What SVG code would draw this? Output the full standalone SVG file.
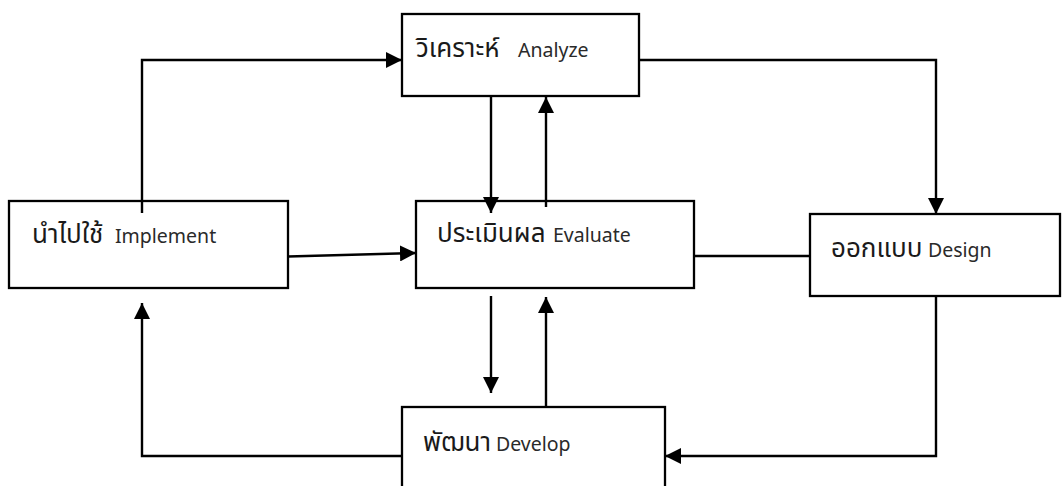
<svg xmlns="http://www.w3.org/2000/svg" width="1063" height="486" viewBox="0 0 1063 486">
  <defs>
    <marker id="arrow" viewBox="0 0 16 16" refX="16" refY="8" markerWidth="16" markerHeight="16" markerUnits="userSpaceOnUse" orient="auto">
      <path d="M0,0 L16,8 L0,16 Z" fill="#000"/>
    </marker>
    <style>
      .box { fill: #fff; stroke: #000; stroke-width: 2.3; }
      .link { fill: none; stroke: #000; stroke-width: 2.4; }
      .th { font-family: "Noto Sans Thai", "Noto Sans Thai UI", "Leelawadee UI", "Loma", "Garuda", "Noto Sans", sans-serif; font-size: 26px; fill: #1a1a1a; }
      .en { font-family: "Noto Sans", "Open Sans", sans-serif; font-size: 19.5px; fill: #2a2a2a; }
    </style>
  </defs>

  <rect width="1063" height="486" fill="#fff"/>

  <!-- stage boxes -->
  <g id="analyze">
    <rect class="box" x="402" y="14" width="237" height="82"/>
    <text class="th" x="416" y="57">วิเคราะห์</text>
    <text class="en" x="518" y="57">Analyze</text>
  </g>
  <g id="implement">
    <rect class="box" x="9" y="201" width="279" height="87"/>
    <text class="th" x="32" y="243">นำไปใช้</text>
    <text class="en" x="115" y="243">Implement</text>
  </g>
  <g id="evaluate">
    <rect class="box" x="416" y="201" width="278" height="87"/>
    <text class="th" x="437" y="242">ประเมินผล</text>
    <text class="en" x="553" y="242">Evaluate</text>
  </g>
  <g id="design">
    <rect class="box" x="810" y="214" width="250" height="82"/>
    <text class="th" x="831" y="257">ออกแบบ</text>
    <text class="en" x="928" y="257">Design</text>
  </g>
  <g id="develop">
    <rect class="box" x="402" y="407" width="263" height="100"/>
    <text class="th" x="423" y="451">พัฒนา</text>
    <text class="en" x="496" y="451">Develop</text>
  </g>

  <!-- connectors -->
  <g id="connectors">
    <path class="link" d="M142,213 V60 H402" marker-end="url(#arrow)"/>
    <path class="link" d="M491,96 V213" marker-end="url(#arrow)"/>
    <path class="link" d="M546,207 V97" marker-end="url(#arrow)"/>
    <path class="link" d="M639,60 H936 V214" marker-end="url(#arrow)"/>
    <path class="link" d="M288,256.5 L416,253" marker-end="url(#arrow)"/>
    <path class="link" d="M694,256 H810"/>
    <path class="link" d="M491,296 V393" marker-end="url(#arrow)"/>
    <path class="link" d="M546,407 V297" marker-end="url(#arrow)"/>
    <path class="link" d="M402,456 H142 V303" marker-end="url(#arrow)"/>
    <path class="link" d="M936,296 V456 H665" marker-end="url(#arrow)"/>
  </g>
</svg>
